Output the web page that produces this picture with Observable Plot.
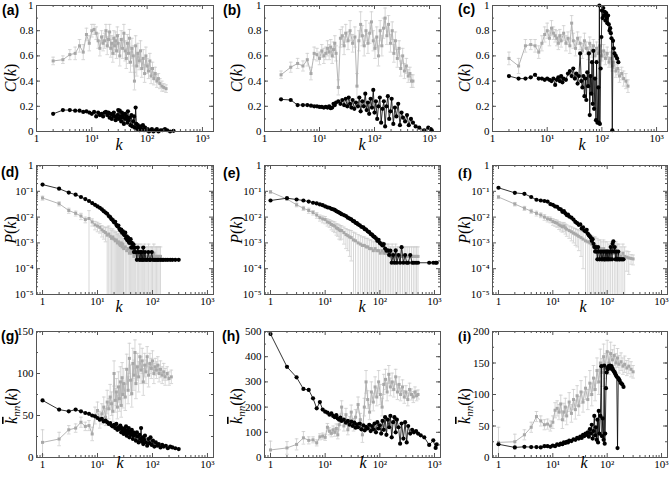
<!DOCTYPE html>
<html><head><meta charset="utf-8">
<script src="https://cdn.jsdelivr.net/npm/d3@7"></script>
<script src="https://cdn.jsdelivr.net/npm/@observablehq/plot@0.6"></script>
<style>
html,body{margin:0;padding:0;background:#fff;}
#chart{position:relative;width:669px;height:477px;overflow:hidden;background:#fff;}
</style></head><body><div id="chart"></div>
<script>
// ---------- tick values & labels ----------
const xTickValues = [1, 10, 100, 1000];
const xTickLabels = ["1", "10\u00B9", "10\u00B2", "10\u00B3"];
const cTickValues = [0, 0.2, 0.4, 0.6, 0.8, 1];
const cTickLabels = ["0", "0.2", "0.4", "0.6", "0.8", "1"];
const pTickValues = [1, 1e-1, 1e-2, 1e-3, 1e-4, 1e-5];
const pTickLabels = ["1", "10\u207B\u00B9", "10\u207B\u00B2", "10\u207B\u00B3", "10\u207B\u2074", "10\u207B\u2075"];
const knnTickValuesG = [0, 50, 100, 150];
const knnTickValuesH = [0, 100, 200, 300, 400, 500];
const knnTickValuesI = [0, 50, 100, 150, 200];

// ---------- column 1 (a, d, g) ----------
const kB1 = [1,2,3,4,5,6,7,8,9,10,
 11,12,13,14,15,16,17,18,19,20,
 21,22,23,24,25,26,27,28,29,30,
 31,32,33,34,35,36,37,38,40,41,
 42,44,45,46,48,50,52,54,56,58,
 60,62,64,66,68,70,73,76,80,84,
 88,92,97,102,108,115,122,130,140,150,
 160,175,190,210,230,260,300];
const cB1 = [null,.14,.17,.17,.165,.165,.155,.16,.15,.14,
 .155,.12,.15,.13,.14,.12,.15,.155,.13,.15,
 .11,.14,.10,.13,.15,.12,.09,.11,.13,.17,
 .10,.165,.12,.08,.15,.11,.13,.06,.14,.10,
 .12,.07,.16,.09,.11,.05,.13,.04,.08,.12,
 .03,.19,.06,.02,.05,.03,.01,.04,.02,.05,
 .01,.03,.01,.02,0,.01,.02,0,.01,.02,
 0,.01,.01,.02,.01,0,.005];
const pB1 = [.182,.126,.089,.074,.060,.050,.042,.035,.030,.026,
 .023,.020,.017,.015,.0135,.011,.010,.0083,.0076,.0063,
 .0066,.0050,.0044,.0047,.0035,.0030,.0033,.0025,.0028,.0022,
 .0020,.0025,.0015,.0018,.00126,.0016,.0011,.0010,.0014,.00066,
 .0010,.00066,.00088,.00044,.00066,.00044,.00022,.00066,.00044,.00022,
 .00044,.00022,.00044,.00022,.00066,.00022,.00044,.00022,.00022,.00044,
 .00022,.00022,.00044,.00022,.00022,.00022,.00022,.00022,.00022,.00022,
 .00022,.00022,.00022,.00022,.00022,.00022,.00022];
const knnB1 = [68,57,55,57,55,53,52,50,49,47,
 45,46,43,44,42,40,41,38,37,39,
 35,40,33,36,34,38,30,35,32,28,
 34,30,37,26,32,29,35,24,31,27,
 33,22,30,26,28,20,30,25,18,27,
 22,35,19,24,16,21,26,18,14,22,
 17,24,15,20,13,18,14,16,12,15,
 13,14,11,13,12,11,10];

const kG1 = [1,2,3,4,5,6,7,8,9,10,
 11,12,13,14,15,16,17,18,19,20,
 21,22,23,24,25,26,27,28,29,30,
 32,34,36,38,40,42,44,46,48,50,
 53,56,59,62,65,68,72,76,80,85,
 90,95,100,106,112,118,125,132,140,150,
 160,170,185,200,220];
const cG1 = [null,.56,.57,.61,.62,.68,.63,.77,.70,.80,
 .81,.78,.72,.66,.75,.70,.72,.80,.68,.73,
 .79,.66,.70,.62,.74,.68,.72,.64,.76,.70,
 .60,.73,.66,.78,.64,.58,.70,.62,.74,.55,
 .66,.60,.40,.68,.52,.62,.56,.64,.50,.58,
 .46,.60,.52,.48,.56,.44,.50,.42,.46,.40,
 .42,.38,.36,.35,.34];
const ceG1 = [null,.03,.03,.04,.05,.05,.06,.05,.06,.05,
 .04,.05,.06,.06,.05,.06,.06,.05,.07,.06,
 .06,.07,.06,.07,.06,.07,.07,.06,.07,.07,
 .08,.07,.08,.07,.08,.08,.07,.08,.07,.08,
 .08,.08,.07,.08,.08,.08,.07,.08,.07,.07,
 .07,.07,.06,.06,.06,.06,.05,.05,.05,.05,
 .04,.04,.04,.03,.03];
const pG1 = [.055,.033,.018,.014,.011,.008,.0088,.0065,.005,.0045,
 .004,.0032,.0028,.0025,.002,.0022,.0018,.0015,.0017,.0014,
 .0012,.0013,.001,.0011,.0009,.0008,.001,.0007,.0009,.0006,
 .0007,.0005,.0006,.0004,.0005,.0004,.0005,.0003,.0004,.0004,
 .0003,.0004,.0003,.0004,.0003,.0003,.0004,.0003,.0003,.0004,
 .0003,.0003,.0003,.0004,.0003,.0003,.0003,.0003,.0003,null,
 null,null,null,null,null];
const peG1 = [.01,.006,.004,.003,.003,.002,.009,.002,.0018,.0018,
 .0016,.0015,.0014,.0014,.0021,.0023,.0019,.0016,.0018,.0015,
 .0013,.0014,.0011,.0012,.001,.0009,.0011,.0008,.001,.0007,
 .0008,.0006,.0007,.0005,.0006,.0005,.0006,.0004,.0005,.0005,
 .0004,.0005,.0004,.0005,.0004,.0004,.0005,.0004,.0004,.0005,
 .0004,.0004,.0004,.0005,.0004,.0004,.0004,.0004,.0004,null,
 null,null,null,null,null];
const knnG1 = [18,22,33,35,42,37,38,28,50,56,
 45,52,60,48,66,58,72,64,55,100,
 68,78,60,84,70,90,62,95,75,88,
 72,105,80,118,92,76,112,98,125,88,
 108,96,120,104,115,90,110,102,120,98,
 112,106,115,100,108,104,110,100,105,98,
 102,96,100,94,96];
const keG1 = [15,8,5,5,6,5,6,8,10,10,
 10,12,12,10,14,12,15,14,12,15,
 14,16,14,18,15,18,14,18,16,18,
 16,18,16,18,18,16,18,18,15,18,
 16,18,15,16,15,16,14,14,12,14,
 12,12,12,12,10,10,10,10,10,10,
 10,10,8,8,8];

// ---------- column 2 (b, e, h) ----------
const kB2 = [1,2,3,4,5,6,7,8,9,10,
 11,12,13,14,15,16,17,18,19,20,
 22,24,26,28,30,32,34,36,38,40,
 43,46,50,53,56,60,64,68,72,76,
 80,85,90,95,100,106,112,118,125,132,
 140,148,156,165,175,185,195,205,220,235,
 250,270,290,310,330,360,390,420,460,500,
 560,650,800,950,1050,1100];
const cB2 = [null,.255,.25,.21,.21,.21,.205,.20,.20,.195,
 .195,.19,.195,.19,.20,.185,.19,.22,.21,.23,
 .24,.22,.25,.21,.26,.20,.27,.22,.19,.25,
 .18,.23,.20,.27,.16,.24,.20,.30,.17,.23,
 .14,.26,.19,.33,.15,.24,.10,.20,.27,.07,
 .18,.24,.04,.20,.28,.10,.16,.26,.06,.19,
 .12,.22,.05,.15,.11,.08,.13,.05,.10,.07,
 .04,.03,.01,.03,.02,.01];
const pB2 = [.044,.054,.048,.044,.040,.036,.034,.031,.029,.026,
 .024,.023,.021,.020,.019,.017,.016,.015,.014,.013,
 .012,.011,.0095,.0088,.0082,.0072,.0068,.0060,.0058,.0052,
 .0048,.0042,.0040,.0034,.0033,.0028,.0026,.0022,.0021,.0018,
 .0017,.0015,.0012,.0013,.0010,.0009,.0008,.0009,.0006,.0005,
 .00051,.00034,.0005,.00017,.00034,.00017,.00051,.00017,.00034,.00017,
 .00068,.00017,.00034,.00017,.00017,.00034,.00017,.00017,.00017,.00017,
 null,null,.00017,.00017,.00017,.00017];
const knnB2 = [490,360,318,272,268,235,195,220,190,182,
 178,170,175,165,160,168,155,150,158,145,
 150,138,145,130,142,125,138,118,132,120,
 135,112,128,108,122,115,130,105,125,112,
 135,100,140,115,128,95,145,110,160,90,
 150,120,165,80,140,160,100,150,120,55,
 135,75,140,60,125,95,110,100,105,95,
 88,80,50,68,38,52];

const kG2 = [1,2,3,4,5,6,7,8,9,10,
 11,12,13,14,15,16,17,18,19,20,
 22,24,26,28,30,33,36,40,44,48,
 52,56,60,65,70,76,82,88,95,102,
 110,118,127,136,146,156,168,180,195,210,
 225,240,260,280,300,325,350,380,410,440,
 470,500];
const cG2 = [null,.45,.51,.54,.52,.57,.46,.62,.61,.58,
 .64,.60,.62,.66,.63,.67,.60,.65,.70,.62,
 .35,.74,.76,.68,.78,.72,.80,.70,.75,.36,
 .72,.85,.76,.68,.80,.70,.78,.87,.72,.66,
 .75,.60,.80,.68,.82,.90,.76,.85,.70,.80,
 .62,.72,.58,.66,.50,.60,.48,.52,.44,.46,
 .40,.40];
const ceG2 = [null,.03,.04,.04,.04,.05,.05,.05,.05,.05,
 .05,.06,.05,.06,.06,.06,.06,.06,.06,.06,
 .06,.07,.07,.07,.07,.07,.08,.07,.08,.1,
 .08,.1,.08,.08,.08,.08,.08,.08,.08,.08,
 .08,.08,.08,.08,.08,.08,.07,.07,.07,.07,
 .07,.07,.07,.06,.06,.06,.06,.06,.05,.05,
 .05,.05];
const pG2 = [.095,.05,.03,.022,.018,.015,.012,.0095,.0085,.008,
 .0065,.006,.0052,.0048,.0045,.0038,.0036,.0032,.003,.003,
 .0025,.0021,.0019,.0017,.0016,.0013,.0012,.001,.0009,.0008,
 .0008,.0007,.0007,.0006,.0006,.0005,.0006,.0005,.0005,.0004,
 .0005,.0004,.0004,.0004,.0004,.0003,.0004,.0003,.0004,.0003,
 .0003,.0003,.0003,.0003,.0003,.0003,.0003,.0003,.0003,.0003,
 .0003,.0003];
const peG2 = [.01,.006,.005,.004,.004,.003,.003,.0025,.0025,.0025,
 .002,.002,.002,.002,.002,.0018,.0018,.0018,.0017,.0016,
 .0016,.0015,.0014,.0014,.0014,.0013,.0012,.0011,.001,.0009,
 .0009,.0008,.0008,.0007,.0007,.0006,.0007,.0006,.0006,.0005,
 .0006,.0005,.0005,.0005,.0005,.0004,.0005,.0004,.0005,.0004,
 .0004,.0004,.0004,.0004,.0004,.0004,.0004,.0004,.0004,.0004,
 .0004,.0004];
const knnG2 = [30,38,52,78,68,70,58,82,85,80,
 120,104,96,110,100,115,90,130,150,200,
 125,170,110,140,180,130,160,210,150,90,
 200,300,230,180,260,220,280,240,300,250,
 200,290,310,260,330,280,300,270,320,260,
 290,250,280,240,260,230,270,250,240,260,
 245,250];
const keG2 = [35,25,22,25,14,12,12,12,12,12,
 15,14,14,15,16,18,16,20,22,25,
 20,25,20,22,28,25,30,30,25,30,
 35,45,35,30,40,35,40,35,45,40,
 35,40,40,35,35,35,35,30,30,30,
 30,25,28,25,25,25,25,22,22,20,
 20,18];

// ---------- column 3 (c, f, i) ----------
const kB3 = [1,2,3,4,5,6,7,8,9,10,
 11,12,13,14,15,16,17,18,19,20,
 22,24,26,28,30,32,34,36,38,40,
 42,44,46,48,50,52,54,56,58,60,
 62,64,66,68,70,72,75,78,80,83,
 86,88,90,92,95,98,100,103,106,110,
 113,116,120,123,126,130,134,138,142,146,
 150,155,160,165,170,180,190,200];
const cB3 = [null,.44,.42,.42,.43,.45,.42,.42,.41,.42,
 .41,.40,.42,.37,.41,.43,.40,.44,.39,.42,
 .41,.46,.48,.44,.50,.42,.46,.38,.44,.62,
 .40,.35,.44,.28,.42,.25,.47,.36,.62,.13,
 .44,.30,.55,.22,.64,.18,.42,.09,.55,.07,
 .35,.07,1.0,.06,.50,.75,.96,.90,.98,.92,
 .95,.88,.94,.90,.86,.92,.85,.80,.82,.78,
 .74,.01,.72,.66,.62,.60,.58,.55];
const pB3 = [.137,.087,.08,.060,.047,.044,.042,.040,.032,.030,
 .026,.025,.021,.020,.016,.017,.014,.012,.0125,.0105,
 .0095,.008,.0065,.0058,.0050,.0052,.0036,.0040,.0030,.0028,
 .0032,.0023,.0020,.0018,.0016,.0012,.0014,.00092,.00069,.00046,
 .00069,.00046,.00023,.00069,.00046,.00023,.00046,.00023,.00046,.00023,
 .00046,.00023,.00023,.00046,.00023,.00046,.00023,.00046,.00023,.00046,
 .00023,.00069,.00046,.00023,.00092,.00115,.00046,.00069,.00023,.00046,
 .00023,.00023,.00046,.00023,.00023,.00023,.00023,.00023];
const knnB3 = [21,16,17,16.5,16.5,16,18,18,17,19,
 18,21,20,22,21,24,23,25,24,27,
 26,29,28,31,30,33,31,36,34,38,
 36,40,33,45,38,52,30,42,66,35,
 48,28,60,24,74,38,66,145,34,62,
 28,146,22,38,110,135,142,140,145,144,
 146,142,145,140,141,138,136,135,132,130,
 128,15,126,124,122,118,116,112];

const kG3 = [1,2,3,4,5,6,7,8,9,10,
 11,12,13,14,15,16,17,18,20,22,
 24,26,28,30,33,36,40,44,48,52,
 56,60,65,70,75,80,86,92,100,108,
 116,125,135,145,155,165,180,195,210,230,
 250,275,300];
const cG3 = [null,.58,.52,.68,.69,.68,.63,.70,.77,.80,
 .74,.82,.78,.76,.74,.70,.76,.72,.78,.70,
 .74,.68,.86,.72,.66,.74,.70,.64,.72,.66,
 .62,.70,.64,.68,.60,.66,.62,.68,.60,.64,
 .58,.62,.55,.58,.52,.55,.48,.50,.44,.46,
 .42,.40,.36];
const ceG3 = [null,.05,.06,.05,.04,.05,.05,.06,.06,.06,
 .06,.06,.05,.05,.06,.05,.05,.05,.06,.06,
 .05,.06,.06,.06,.06,.05,.05,.06,.06,.05,
 .05,.05,.05,.05,.05,.05,.05,.05,.04,.05,
 .05,.05,.04,.05,.04,.05,.05,.05,.05,.05,
 .06,.06,.05];
const pG3 = [.06,.032,.022,.017,.014,.012,.010,.0085,.0080,.0068,
 .0062,.0058,.0050,.0046,.0042,.0045,.0038,.0034,.0030,.0027,
 .0024,.0022,.0020,.0018,.0016,.0014,.0012,.0011,.0010,.0009,
 .0008,.0008,.0007,.0006,.0006,.0005,.0006,.0005,.0005,.0004,
 .0005,.0004,.0004,.0005,.0004,.0004,.0003,.0004,.0003,.00028,
 .00026,.00025,.00024];
const peG3 = [.008,.005,.004,.003,.003,.0025,.0025,.002,.002,.002,
 .0018,.0018,.0017,.0017,.0016,.0017,.0016,.0016,.0015,.0015,
 .0014,.0014,.0013,.0013,.0013,.0013,.0012,.0011,.0011,.001,
 .0009,.0009,.0008,.0007,.0007,.0006,.0007,.0006,.0006,.0005,
 .0006,.0005,.0005,.0006,.0005,.0005,.0004,.0005,.0004,.0002,
 .0002,.0001,.0001];
const knnG3 = [24,25,36,48,65,58,52,53,50,56,
 75,78,72,85,60,72,80,66,88,70,
 92,76,98,82,104,88,110,92,118,100,
 126,108,138,120,150,135,160,145,168,150,
 165,155,162,150,158,148,152,145,148,142,
 145,140,136];
const keG3 = [24,12,8,8,8,8,8,8,8,10,
 12,12,12,14,14,14,14,14,15,14,
 16,15,16,15,18,16,18,16,20,18,
 20,18,20,20,22,22,20,20,18,18,
 18,16,16,15,15,14,14,13,13,12,
 12,12,10];

// ---------- helpers ----------
function series(k, y, e) {
  const out = [];
  for (let i = 0; i < k.length; i++) {
    if (y[i] == null) continue;
    out.push({k: k[i], y: y[i], e: e ? e[i] : 0});
  }
  return out;
}
const capSymbol = {draw(ctx, size) { const r = Math.sqrt(size / Math.PI); ctx.moveTo(-r, 0); ctx.lineTo(r, 0); }};
function logMinor(lo, hi) {
  const out = [];
  for (let d = -6; d <= 4; d++) for (let m = 2; m <= 9; m++) {
    const v = m * Math.pow(10, d);
    if (v > lo && v < hi) out.push(v);
  }
  return out;
}
function linMinor(lo, hi, step) {
  const out = [];
  for (let v = lo + step; v < hi - 1e-9; v += step) out.push(+v.toFixed(6));
  return out;
}

const X1 = [1, Math.pow(10, 3.2)];
const X2 = [Math.pow(10, -0.11), Math.pow(10, 3.11)];
const C_Y = {type: "linear", domain: [0, 1], ticks: cTickValues, labels: cTickLabels, minor: linMinor(0, 1, 0.1)};
const P_Y = {type: "log", domain: [1e-5, 1], ticks: pTickValues, labels: pTickLabels, minor: logMinor(1e-5, 1)};
const G_Y = {type: "linear", domain: [0, 150], ticks: knnTickValuesG, labels: knnTickValuesG.map(String), minor: linMinor(0, 150, 25)};
const H_Y = {type: "linear", domain: [0, 500], ticks: knnTickValuesH, labels: knnTickValuesH.map(String), minor: linMinor(0, 500, 50)};
const I_Y = {type: "linear", domain: [0, 200], ticks: knnTickValuesI, labels: knnTickValuesI.map(String), minor: linMinor(0, 200, 25)};

const panels = [
  {frame: [36, 213, 5, 131], xd: X1, ys: C_Y, black: series(kB1, cB1), grey: series(kG1, cG1, ceG1)},
  {frame: [264, 440, 5, 131], xd: X1, ys: C_Y, black: series(kB2, cB2), grey: series(kG2, cG2, ceG2)},
  {frame: [492, 667, 5, 131], xd: X1, ys: C_Y, black: series(kB3, cB3), grey: series(kG3, cG3, ceG3)},
  {frame: [36, 213, 165, 294], xd: X2, ys: P_Y, black: series(kB1, pB1), grey: series(kG1, pG1, peG1)},
  {frame: [264, 440, 165, 294], xd: X2, ys: P_Y, black: series(kB2, pB2), grey: series(kG2, pG2, peG2)},
  {frame: [492, 667, 165, 294], xd: X2, ys: P_Y, black: series(kB3, pB3), grey: series(kG3, pG3, peG3)},
  {frame: [36, 213, 331, 457], xd: X2, ys: G_Y, black: series(kB1, knnB1), grey: series(kG1, knnG1, keG1)},
  {frame: [264, 440, 331, 457], xd: X2, ys: H_Y, black: series(kB2, knnB2), grey: series(kG2, knnG2, keG2)},
  {frame: [492, 667, 331, 457], xd: X2, ys: I_Y, black: series(kB3, knnB3), grey: series(kG3, knnG3, keG3)}
];

const frameColor = "#555";
const errColor = "#cdcdcd";
const greyLine = "#b5b5b5";
const greyPt = "#a8a8a8";
const chart = document.getElementById("chart");
const ml = 34, mr = 3, mt = 3, mb = 20;

for (const p of panels) {
  const [x0, x1, y0, y1] = p.frame;
  const w = x1 - x0, h = y1 - y0;
  const ys = p.ys;
  const isLog = ys.type === "log";
  const lo = d => isLog ? Math.max(d.y - d.e, 1e-7) : d.y - d.e;
  const xMinor = logMinor(p.xd[0], p.xd[1]);
  const xMajor = xTickValues.filter(v => v >= p.xd[0] - 1e-9 && v <= p.xd[1]);
  const xLab = new Map(xTickValues.map((v, i) => [v, xTickLabels[i]]));
  const yLab = new Map(ys.ticks.map((v, i) => [v, ys.labels[i]]));
  const svg = Plot.plot({
    width: w + ml + mr, height: h + mt + mb,
    marginLeft: ml, marginRight: mr, marginTop: mt, marginBottom: mb,
    x: {type: "log", domain: p.xd},
    y: {type: ys.type, domain: ys.domain},
    style: {fontFamily: "'Liberation Serif', 'Times New Roman', serif", fontSize: "11px", color: "#000", background: "transparent", overflow: "visible"},
    marks: [
      Plot.ruleX(p.grey, {x: "k", y1: lo, y2: d => d.y + d.e, stroke: errColor, strokeWidth: 0.8, clip: true}),
      Plot.dot(p.grey, {x: "k", y: d => d.y + d.e, symbol: capSymbol, r: 1.8, stroke: errColor, strokeWidth: 0.8, clip: true}),
      Plot.dot(p.grey, {x: "k", y: lo, symbol: capSymbol, r: 1.8, stroke: errColor, strokeWidth: 0.8, clip: true}),
      Plot.line(p.grey, {x: "k", y: "y", stroke: greyLine, strokeWidth: 1}),
      Plot.dot(p.grey, {x: "k", y: "y", symbol: "square", r: 1.7, fill: greyPt}),
      Plot.line(p.black, {x: "k", y: "y", stroke: "#000", strokeWidth: 0.8}),
      Plot.dot(p.black, {x: "k", y: "y", r: 2.1, fill: "#000"}),
      Plot.frame({stroke: frameColor, strokeWidth: 1}),
      Plot.tickX(xMajor, {x: d => d, insetTop: h - 4, stroke: frameColor}),
      Plot.tickX(xMajor, {x: d => d, insetBottom: h - 4, stroke: frameColor}),
      Plot.tickX(xMinor, {x: d => d, insetTop: h - 2, stroke: frameColor}),
      Plot.tickX(xMinor, {x: d => d, insetBottom: h - 2, stroke: frameColor}),
      Plot.tickY(ys.ticks, {y: d => d, insetRight: w - 4, stroke: frameColor}),
      Plot.tickY(ys.ticks, {y: d => d, insetLeft: w - 4, stroke: frameColor}),
      Plot.tickY(ys.minor, {y: d => d, insetRight: w - 2, stroke: frameColor}),
      Plot.tickY(ys.minor, {y: d => d, insetLeft: w - 2, stroke: frameColor}),
      Plot.axisX(xMajor, {anchor: "bottom", tickSize: 0, tickPadding: 3, tickFormat: d => xLab.get(d), label: null}),
      Plot.axisY(ys.ticks, {anchor: "left", tickSize: 0, tickPadding: 3, tickFormat: d => yLab.get(d), label: null})
    ]
  });
  svg.style.position = "absolute";
  svg.style.left = (x0 - ml) + "px";
  svg.style.top = (y0 - mt) + "px";
  chart.appendChild(svg);
}

// ---------- overlay text: panel letters, axis titles ----------
const panelLetters = ["(a)", "(b)", "(c)", "(d)", "(e)", "(f)", "(g)", "(h)", "(i)"];
const letterPos = [[2, 15], [223, 15], [458, 14], [1, 177], [223, 178], [458, 178], [1, 341], [222, 341], [458, 341]];
const yTitles = ["C", "C", "C", "P", "P", "P", "knn", "knn", "knn"];
const yTitlePos = [[16, 78], [242, 78], [470, 78], [16, 230], [242, 230], [470, 230], [17, 406], [242, 406], [470, 406]];
const kTitlePos = [[119, 150], [362, 150], [582, 150], [119, 312], [362, 312], [583, 312], [120, 468], [363, 468], [584, 468]];

const ov = d3.create("svg").attr("width", 669).attr("height", 477)
  .style("position", "absolute").style("left", "0px").style("top", "0px").style("pointer-events", "none");
const serif = "'Liberation Serif', 'Times New Roman', serif";
panelLetters.forEach((t, i) => {
  const useSerif = t === "(f)" || t === "(i)";
  ov.append("text").attr("x", letterPos[i][0]).attr("y", letterPos[i][1])
    .attr("font-family", useSerif ? serif : "'Liberation Sans', Arial, sans-serif")
    .attr("font-weight", "bold").attr("font-size", 14).text(t);
});
yTitles.forEach((t, i) => {
  const [x, y] = yTitlePos[i];
  const txt = ov.append("text").attr("transform", `translate(${x},${y}) rotate(-90)`)
    .attr("text-anchor", "middle").attr("font-family", serif).attr("font-size", 16);
  if (t === "knn") {
    txt.append("tspan").attr("font-style", "italic").style("text-decoration", "overline").text("k");
    txt.append("tspan").attr("font-style", "italic").attr("font-size", 11).attr("dy", 3).text("nn");
    txt.append("tspan").attr("dy", -3).text("(");
  } else {
    txt.append("tspan").attr("font-style", "italic").text(t);
    txt.append("tspan").text("(");
  }
  txt.append("tspan").attr("font-style", "italic").text("k");
  txt.append("tspan").text(")");
});
kTitlePos.forEach(([x, y]) => {
  ov.append("text").attr("x", x).attr("y", y).attr("text-anchor", "middle")
    .attr("font-family", serif).attr("font-style", "italic").attr("font-size", 16).text("k");
});
chart.appendChild(ov.node());
</script></body></html>
